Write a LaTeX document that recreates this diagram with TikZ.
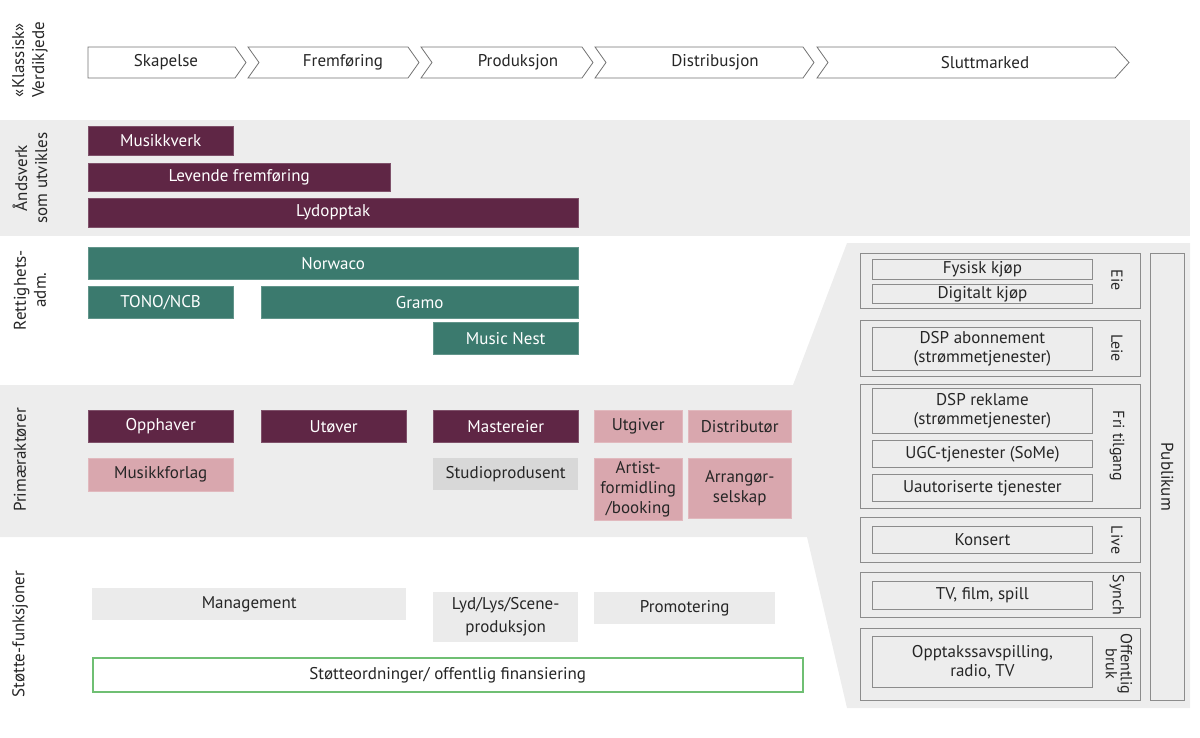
\documentclass[tikz,border=0pt]{standalone}
\usepackage{fontspec}
\setmainfont{PT Sans}
\begin{document}
\begin{tikzpicture}[x=1pt,y=-1pt,
  every node/.style={font=\fontsize{17}{19}\selectfont, text=black!85, align=center, inner sep=0pt},
  wine/.style={fill=wine, draw=wine!80!white, text=white},
  teal/.style={fill=tealc, draw=tealc!80!white, text=white},
  pink/.style={fill=pinkc, draw=pinkc!80!white},
  lg/.style={fill=lgray},
  sg/.style={fill=sgray},
  wbox/.style={draw=black!45, line width=0.8pt},
  chev/.style={draw=black!55, fill=white, line width=0.8pt},
  lab/.style={rotate=90, font=\fontsize{17}{20}\selectfont},
  rlab/.style={rotate=-90, font=\fontsize{16}{15}\selectfont}]
\definecolor{wine}{HTML}{5F2645}
\definecolor{tealc}{HTML}{3B7A6E}
\definecolor{pinkc}{HTML}{D9A7AE}
\definecolor{lgray}{HTML}{D8D8D8}
\definecolor{sgray}{HTML}{EBEBEB}
\definecolor{bandg}{HTML}{EDEDED}
\useasboundingbox (0,0) rectangle (1200,737);
% bands
\fill[bandg] (0,120) rectangle (1190,236);
\fill[bandg] (0,385) -- (793,385) -- (847,243) -- (1190,243) -- (1190,708) -- (847,708) -- (807,537) -- (0,537) -- cycle;
% chevrons
\draw[chev] (88,47) -- (235,47) -- (246,62.5) -- (235,78) -- (88,78) -- cycle;
\node (c1) at (166,62.5) {Skapelse};
\draw[chev] (248,47) -- (408,47) -- (419,62.5) -- (408,78) -- (248,78) -- (259,62.5) -- cycle;
\node (c2) at (343,62.5) {Fremføring};
\draw[chev] (421,47) -- (582,47) -- (593,62.5) -- (582,78) -- (421,78) -- (432,62.5) -- cycle;
\node (c3) at (518,62.5) {Produksjon};
\draw[chev] (595,47) -- (803,47) -- (814,62.5) -- (803,78) -- (595,78) -- (606,62.5) -- cycle;
\node (c4) at (715,62.5) {Distribusjon};
\draw[chev] (817,47) -- (1115,47) -- (1129,62.5) -- (1115,78) -- (817,78) -- (828,62.5) -- cycle;
\node (c5) at (985,62.5) {Sluttmarked};
% left labels
\node[lab] (l1) at (30,60) {«Klassisk»\\Verdikjede};
\node[lab] (l2) at (30,178) {Åndsverk\\som utvikles};
\node[lab] (l3) at (30,290) {Rettighets-\\adm.};
\node[lab] (l4) at (20,460) {Primæraktører};
\node[lab] (l5) at (20,634) {Støtte-funksjoner};
% andsverk
\node[wine, minimum width=145, minimum height=29, anchor=north west] (mv) at (88,126) {Musikkverk};
\node[wine, minimum width=302, minimum height=28, anchor=north west] (lf) at (88,163) {Levende fremføring};
\node[wine, minimum width=490, minimum height=29, anchor=north west] (lo) at (88,198) {Lydopptak};
% rights
\node[teal, minimum width=490, minimum height=32, anchor=north west] (nw) at (88,247) {Norwaco};
\node[teal, minimum width=145, minimum height=32, anchor=north west] (tn) at (88,286) {TONO/NCB};
\node[teal, minimum width=317, minimum height=32, anchor=north west] (gr) at (261,286) {Gramo};
\node[teal, minimum width=145, minimum height=32, anchor=north west] (mn) at (433,322) {Music Nest};
% primary
\node[wine, minimum width=145, minimum height=32, anchor=north west] (op) at (88,410) {Opphaver};
\node[wine, minimum width=145, minimum height=32, anchor=north west] (ut) at (261,410) {Utøver};
\node[wine, minimum width=145, minimum height=32, anchor=north west] (me) at (433,410) {Mastereier};
\node[pink, minimum width=88, minimum height=32, anchor=north west] (ug) at (594,410) {Utgiver};
\node[pink, minimum width=103, minimum height=32, anchor=north west] (di) at (688,410) {Distributør};
\node[pink, minimum width=145, minimum height=33, anchor=north west] (mf) at (88,458) {Musikkforlag};
\node[lg, minimum width=145, minimum height=32, anchor=north west] (sp) at (433,458) {Studioprodusent};
\node[pink, minimum width=88, minimum height=62, anchor=north west, font=\fontsize{17}{20}\selectfont] (af) at (594,458) {Artist-\\formidling\\/booking};
\node[pink, minimum width=103, minimum height=60, anchor=north west, font=\fontsize{17}{20}\selectfont] (ar) at (688,458) {Arrangør-\\selskap};
% support
\node[sg, minimum width=314, minimum height=32, anchor=north west] (mg) at (92,588) {Management};
\node[sg, minimum width=145, minimum height=50, anchor=north west, font=\fontsize{17}{23}\selectfont] (ly) at (433,592) {Lyd/Lys/Scene-\\produksjon};
\node[sg, minimum width=181, minimum height=32, anchor=north west] (pr) at (594,592) {Promotering};
\node[draw={rgb,255:red,111;green,191;blue,115}, line width=1.5pt, fill=white, minimum width=710, minimum height=34, anchor=north west] (st) at (92,657) {Støtteordninger/ offentlig finansiering};
% right panel outer
\draw[wbox] (860,253) rectangle (1140,308);
\draw[wbox] (860,320) rectangle (1140,376);
\draw[wbox] (860,384) rectangle (1140,508);
\draw[wbox] (860,517) rectangle (1140,562);
\draw[wbox] (860,572) rectangle (1140,617);
\draw[wbox] (860,628) rectangle (1140,700);
\node[wbox, minimum width=34, minimum height=447, anchor=north west] (pub) at (1150,253) {};
\node[rlab] at (pub) {\fontsize{17}{20}\selectfont Publikum};
\node[rlab] (r1) at (1117,280) {Eie};
\node[rlab] (r2) at (1117,348) {Leie};
\node[rlab] (r3) at (1117,446) {Fri tilgang};
\node[rlab] (r4) at (1117,540) {Live};
\node[rlab] (r5) at (1117,595) {Synch};
\node[rlab] (r6) at (1119,664) {Offentlig\\bruk};
% inner
\tikzset{ib/.style={wbox, minimum width=220, anchor=north west, font=\fontsize{17}{19}\selectfont}}
\node[ib, minimum height=20] (f1) at (872,259) {Fysisk kjøp};
\node[ib, minimum height=19] (f2) at (872,284) {Digitalt kjøp};
\node[ib, minimum height=43] (f3) at (872,327) {DSP abonnement\\(strømmetjenester)};
\node[ib, minimum height=45] (f4) at (872,388) {DSP reklame\\(strømmetjenester)};
\node[ib, minimum height=27] (f5) at (872,440) {UGC-tjenester (SoMe)};
\node[ib, minimum height=27] (f6) at (872,474) {Uautoriserte tjenester};
\node[ib, minimum height=27] (f7) at (872,526) {Konsert};
\node[ib, minimum height=28] (f8) at (872,581) {TV, film, spill};
\node[ib, minimum height=51] (f9) at (872,636) {Opptakssavspilling,\\radio, TV};
\end{tikzpicture}
\end{document}
